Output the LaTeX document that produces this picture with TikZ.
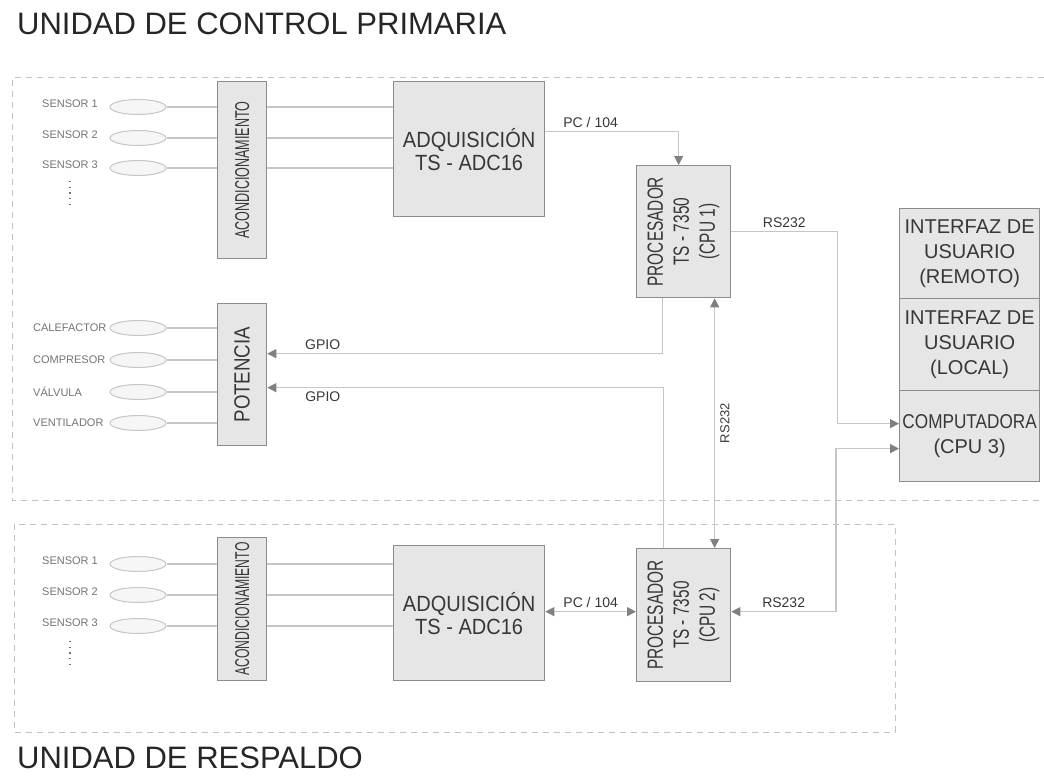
\documentclass[tikz,border=0pt]{standalone}
\usepackage{fontspec}
\setmainfont{Liberation Sans}
\usepackage{tikz}
\usetikzlibrary{arrows.meta, calc, shapes.geometric}
\definecolor{boxfill}{RGB}{230,230,230}
\definecolor{boxline}{RGB}{140,140,140}
\definecolor{wirecolor}{RGB}{198,198,198}
\definecolor{tipcolor}{RGB}{128,128,128}
\definecolor{txtcolor}{RGB}{55,55,55}
\definecolor{smallcolor}{RGB}{115,115,115}
\definecolor{framecolor}{RGB}{195,195,195}
\newcommand{\pxfont}[2]{\fontsize{#1}{#2}\selectfont}
\newcommand{\squeeze}[2]{\scalebox{#1}[1]{#2}}
\tikzset{
  block/.style={draw=boxline, fill=boxfill, line width=1.3pt, inner sep=0pt,
                anchor=north west, align=center, text=txtcolor},
  sensor/.style={ellipse, draw=wirecolor, fill=gray!7, line width=1pt,
                 minimum width=56pt, minimum height=15pt, inner sep=0pt},
  tag/.style={anchor=west, text=smallcolor, font=\pxfont{11}{11}, inner sep=0pt},
  wire/.style={draw=wirecolor, line width=1.3pt},
  arrow/.style={wire, -{Triangle[length=9pt, width=9pt, color=tipcolor]}},
  darrow/.style={wire, {Triangle[length=9pt, width=9pt, color=tipcolor]}-{Triangle[length=9pt, width=9pt, color=tipcolor]}},
  lbl/.style={font=\pxfont{14}{14}, text=txtcolor, inner sep=3pt},
  frame/.style={draw=framecolor, dash pattern=on 6pt off 5pt, line width=1pt},
  dots/.style={draw=smallcolor, dash pattern=on 1.2pt off 4.5pt, line width=1.2pt},
  heading/.style={anchor=base west, font=\pxfont{31}{31}, text=black!85, inner sep=0pt},
}

\begin{document}
\begin{tikzpicture}[x=1pt, y=-1pt]
  \useasboundingbox (0,0) rectangle (1044,776);

  % Headings
  \node[heading] (hdA) at (17,35) {UNIDAD DE CONTROL PRIMARIA};
  \node[heading] (hdB) at (17,768) {UNIDAD DE RESPALDO};

  % Frames
  \draw[frame] (1044,78) -- (12,78) -- (12,500) -- (1044,500);
  \draw[frame] (14,524) rectangle (895,732);

  % Primary unit
  \node[block, minimum width=49pt, minimum height=177pt, font=\pxfont{20}{20}] (acA) at (217,81)
    {\rotatebox{90}{\squeeze{0.63}{ACONDICIONAMIENTO}}};
  \node[block, minimum width=151pt, minimum height=135pt, font=\pxfont{22}{23}] (adqA) at (393,81)
    {\squeeze{0.91}{ADQUISICIÓN}\\\squeeze{0.91}{TS - ADC16}};
  \node[block, minimum width=94pt, minimum height=132pt, font=\pxfont{22}{26}] (cpuA) at (636,165)
    {\rotatebox{90}{\begin{tabular}{@{}c@{}}\squeeze{0.7}{PROCESADOR}\\\squeeze{0.7}{TS - 7350}\\\squeeze{0.7}{(CPU 1)}\end{tabular}}};
  \node[block, minimum width=49pt, minimum height=142pt, font=\pxfont{22}{22}] (potA) at (217,303)
    {\rotatebox{90}{\squeeze{0.85}{POTENCIA}}};

  % User side
  \node[block, minimum width=140pt, minimum height=90pt, font=\pxfont{20}{25}] (rem) at (899,208)
    {INTERFAZ DE\\USUARIO\\(REMOTO)};
  \node[block, minimum width=140pt, minimum height=92pt, font=\pxfont{20}{25}] (loc) at (899,298)
    {INTERFAZ DE\\USUARIO\\(LOCAL)};
  \node[block, minimum width=140pt, minimum height=91pt, font=\pxfont{20}{25}] (comp) at (899,390)
    {\squeeze{0.86}{COMPUTADORA}\\(CPU 3)};

  % Backup unit
  \node[block, minimum width=49pt, minimum height=143pt, font=\pxfont{20}{20}] (acB) at (217,537)
    {\rotatebox{90}{\squeeze{0.61}{ACONDICIONAMIENTO}}};
  \node[block, minimum width=151pt, minimum height=135pt, font=\pxfont{22}{23}] (adqB) at (393,545)
    {\squeeze{0.91}{ADQUISICIÓN}\\\squeeze{0.91}{TS - ADC16}};
  \node[block, minimum width=94pt, minimum height=133pt, font=\pxfont{22}{26}] (cpuB) at (636,548)
    {\rotatebox{90}{\begin{tabular}{@{}c@{}}\squeeze{0.7}{PROCESADOR}\\\squeeze{0.7}{TS - 7350}\\\squeeze{0.7}{(CPU 2)}\end{tabular}}};

  % Sensors
  \foreach \i/\y in {1/107, 2/138, 3/168} {
    \node[sensor] (sA\i) at (138,\y) {};
    \node[tag] (tA\i) at (42,\y-3) {SENSOR \i};
    \draw[wire] (sA\i) -- (sA\i -| acA.west);
    \draw[wire] (acA.east |- sA\i) -- (adqA.west |- sA\i);
  }
  \foreach \i/\y in {1/564, 2/595, 3/626} {
    \node[sensor] (sB\i) at (138,\y) {};
    \node[tag] (tB\i) at (42,\y-3) {SENSOR \i};
    \draw[wire] (sB\i) -- (sB\i -| acB.west);
    \draw[wire] (acB.east |- sB\i) -- (adqB.west |- sB\i);
  }
  \draw[dots] (70,181) -- (70,208);
  \draw[dots] (70,641) -- (70,668);

  % Actuators
  \foreach \i/\y/\t in {1/328/CALEFACTOR, 2/360/COMPRESOR, 3/392/VÁLVULA, 4/423/VENTILADOR} {
    \node[sensor] (aA\i) at (138,\y) {};
    \node[tag] (uA\i) at (33,\y) {\t};
    \draw[wire] (aA\i) -- (aA\i -| potA.west);
  }

  % Buses
  \draw[arrow] ([yshift=17.5pt]adqA.east) -| node[lbl, above, pos=0.17] (pcA) {PC / 104}
    ([xshift=-5pt]cpuA.north);
  \draw[arrow] (cpuA.east) -- node[lbl, above] (rsA) {RS232} ++(106,0)
    |- ([yshift=12.5pt]comp.west);
  \draw[darrow] ([yshift=-12.5pt]comp.west) -- ++(-63,0)
    |- node[lbl, above, pos=0.75] (rsB) {RS232} ([yshift=3.5pt]cpuB.east);
  \draw[darrow] ([yshift=1.5pt]adqB.east) -- node[lbl, above] (pcB) {PC / 104}
    ([yshift=1.5pt]adqB.east -| cpuB.west);
  \draw[darrow] ([xshift=31pt]cpuA.south) -- node[lbl, rotate=90, anchor=north,
    font=\pxfont{13}{13}, inner sep=5pt] (rsC) {RS232} ([xshift=31pt]cpuB.north);

  % GPIO
  \draw[arrow] ([xshift=-21pt]cpuA.south) |- node[lbl, above, pos=0.93] (gpA) {GPIO}
    ([yshift=21pt]potA.east);
  \draw[arrow] ([xshift=-20pt]cpuB.north) |- node[lbl, below, pos=0.93] (gpB) {GPIO}
    ([yshift=-13pt]potA.east);

\end{tikzpicture}
\end{document}
